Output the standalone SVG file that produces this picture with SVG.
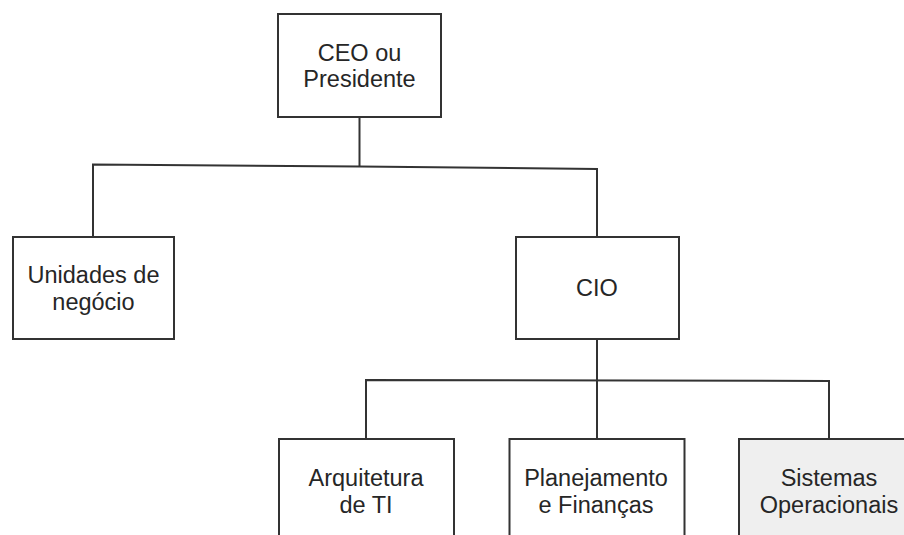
<svg xmlns="http://www.w3.org/2000/svg" width="904" height="535" viewBox="0 0 904 535">
<style>
.box{fill:#ffffff;stroke:#333333;stroke-width:2}
.gray{fill:#efefef}
.lbl{font-family:"Liberation Sans",Arial,sans-serif;font-size:23.5px;fill:#262626;text-anchor:middle}
.con{fill:none;stroke:#333333;stroke-width:2}
</style>
<rect x="0" y="0" width="904" height="535" fill="#ffffff"/>
<g id="connectors">
<polyline class="con" points="359.5,117 359.5,166.5"/>
<polyline class="con" points="93,236 93,164.5 359.5,166.5 597,169 597,237"/>
<polyline class="con" points="597,339 597,439"/>
<polyline class="con" points="366,439 366,380 829,381 829,439"/>
</g>
<g id="ceo">
<rect class="box" x="278" y="14" width="163" height="103"/>
<text class="lbl" x="359.5" y="61">CEO ou</text>
<text class="lbl" x="359.5" y="87">Presidente</text>
</g>
<g id="unidades">
<rect class="box" x="13" y="237" width="161" height="102"/>
<text class="lbl" x="93.5" y="283">Unidades de</text>
<text class="lbl" x="93.5" y="310">negócio</text>
</g>
<g id="cio">
<rect class="box" x="516" y="237" width="163" height="102"/>
<text class="lbl" x="597" y="296">CIO</text>
</g>
<g id="arquitetura">
<rect class="box" x="279" y="439" width="175" height="102"/>
<text class="lbl" x="366" y="486">Arquitetura</text>
<text class="lbl" x="366" y="513">de TI</text>
</g>
<g id="planejamento">
<rect class="box" x="509.5" y="439" width="175" height="102"/>
<text class="lbl" x="596" y="486">Planejamento</text>
<text class="lbl" x="596" y="513">e Finanças</text>
</g>
<g id="sistemas">
<rect class="box gray" x="739" y="439" width="180" height="102"/>
<text class="lbl" x="829" y="486">Sistemas</text>
<text class="lbl" x="829" y="513">Operacionais</text>
</g>
</svg>
